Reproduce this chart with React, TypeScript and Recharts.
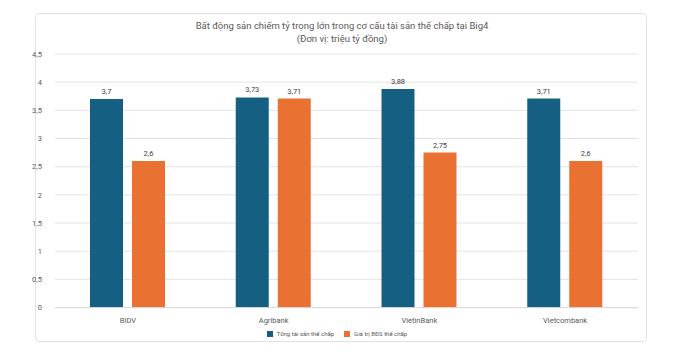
import { BarChart, Bar, XAxis, YAxis, CartesianGrid, Legend, LabelList } from "recharts";

const banks = ["BIDV", "Agribank", "VietinBank", "Vietcombank"];
const totalCollateral = [3.7, 3.73, 3.88, 3.71];
const realEstateCollateral = [2.6, 3.71, 2.75, 2.6];
const yTicks = [0, 0.5, 1, 1.5, 2, 2.5, 3, 3.5, 4, 4.5];

const data = banks.map((bank, i) => ({
  bank,
  tong: totalCollateral[i],
  bds: realEstateCollateral[i],
}));

const font = "Roboto, 'Noto Sans', sans-serif";
const comma = (v: number) => String(v).replace(".", ",");

export default function App() {
  return (
    <div style={{ position: "relative", width: 684, height: 355, margin: -8, background: "#fff", fontFamily: font }}>
      <div
        style={{
          position: "absolute",
          left: 35,
          top: 13,
          width: 610,
          height: 327,
          border: "1px solid #e3e3e3",
          borderRadius: 4,
        }}
      />
      <div
        style={{
          position: "absolute",
          left: 0,
          top: 19,
          width: 684,
          textAlign: "center",
          fontSize: 9.5,
          lineHeight: "13px",
          color: "#595959",
        }}
      >
        <div>Bất động sản chiếm tỷ trọng lớn trong cơ cấu tài sản thế chấp tại Big4</div>
        <div>(Đơn vị: triệu tỷ đồng)</div>
      </div>
      <div style={{ position: "absolute", left: 0, top: 0 }}>
        <BarChart
          width={684}
          height={355}
          data={data}
          margin={{ top: 54, right: 46, left: 0, bottom: 18 }}
          barSize={33}
          barGap={9}
        >
          <CartesianGrid vertical={false} stroke="#e3e3e3" />
          <XAxis
            dataKey="bank"
            tickLine={false}
            axisLine={{ stroke: "#d9d9d9" }}
            tick={{ fill: "#595959", fontSize: 7.5, fontFamily: font }}
            tickMargin={4}
            height={22}
          />
          <YAxis
            width={55}
            domain={[0, 4.5]}
            ticks={yTicks}
            tickFormatter={comma}
            axisLine={false}
            tickLine={false}
            tickMargin={7}
            tick={{ fill: "#595959", fontSize: 7.5, fontFamily: font }}
          />
          <Legend
            verticalAlign="bottom"
            align="center"
            iconType="square"
            iconSize={6}
            itemSorter={(item: any) => (item.dataKey === "tong" ? 0 : 1)}
            wrapperStyle={{ left: 0, width: 684, fontSize: 6, color: "#595959", fontFamily: font }}
            formatter={(value) => <span style={{ color: "#595959" }}>{value}</span>}
          />
          <Bar dataKey="tong" name="Tổng tài sản thế chấp" fill="#156082" isAnimationActive={false}>
            <LabelList dataKey="tong" position="top" offset={5} formatter={(v: any) => comma(v)} style={{ fill: "#404040", fontSize: 7.5, fontFamily: font }} />
          </Bar>
          <Bar dataKey="bds" name="Giá trị BĐS thế chấp" fill="#E97132" isAnimationActive={false}>
            <LabelList dataKey="bds" position="top" offset={5} formatter={(v: any) => comma(v)} style={{ fill: "#404040", fontSize: 7.5, fontFamily: font }} />
          </Bar>
        </BarChart>
      </div>
    </div>
  );
}
